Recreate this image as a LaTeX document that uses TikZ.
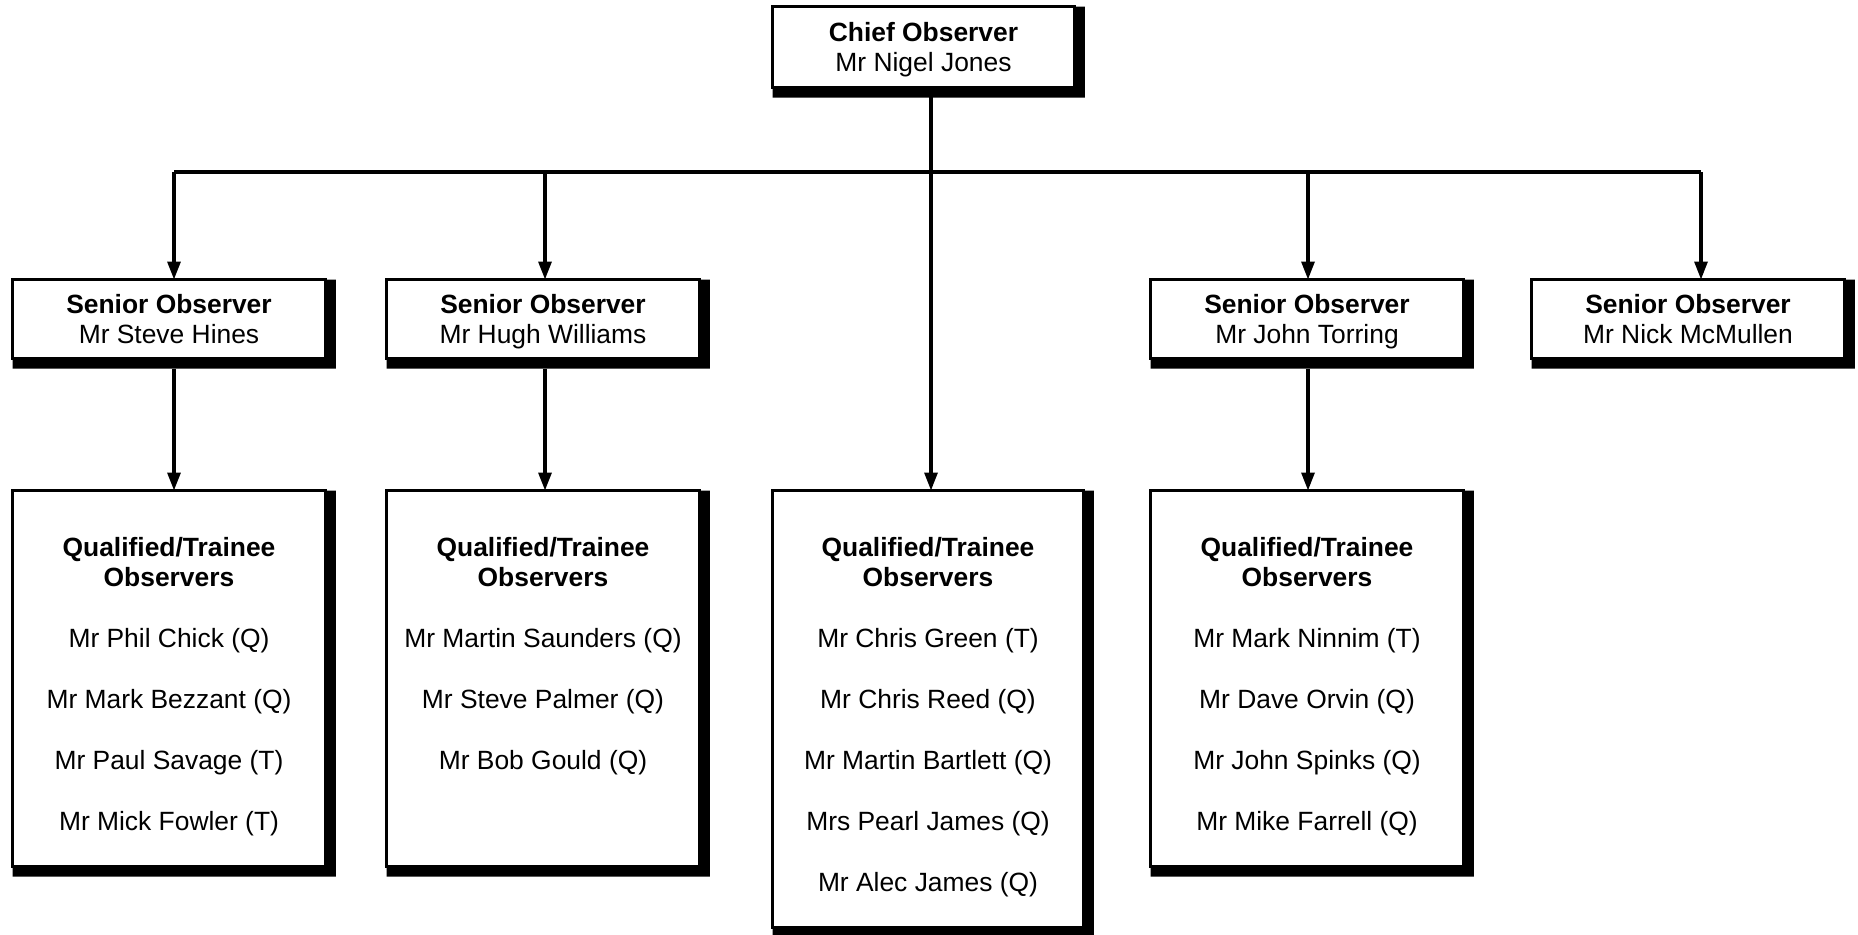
\documentclass[tikz,border=0pt]{standalone}
\usepackage{fontspec}
\setmainfont{Liberation Sans}
\usetikzlibrary{arrows.meta}

\tikzset{
  obox/.style={draw, line width=1.6pt, fill=white, inner sep=0pt, outer sep=0pt,
    minimum width=156.5pt, align=center, font=\fontsize{13.2}{15}\selectfont,
    text depth=0pt},
  sobox/.style={obox, minimum height=39.5pt},
  qbox/.style={obox, minimum height=188pt},
  qtext/.style={inner sep=0pt, anchor=north, align=center, font=\fontsize{13.2}{15}\selectfont},
  conn/.style={line width=1.6pt},
  arr/.style={conn, -{Triangle[length=9pt,width=6.5pt]}}
}

\begin{document}
\begin{tikzpicture}[x=0.5pt,y=-0.5pt]
	\useasboundingbox (0,0) rectangle (1858,934);
	% boxes
	\node[obox, minimum width=151pt, minimum height=40.5pt] (chief) at (923.5,47) {\textbf{Chief Observer}\\Mr Nigel Jones};
	\node[sobox] (so1) at (169,319) {\textbf{Senior Observer}\\Mr Steve Hines};
	\node[sobox] (so2) at (543,319) {\textbf{Senior Observer}\\Mr Hugh Williams};
	\node[sobox] (so3) at (1307,319) {\textbf{Senior Observer}\\Mr John Torring};
	\node[sobox] (so4) at (1688,319) {\textbf{Senior Observer}\\Mr Nick McMullen};
	\node[qbox] (q1) at (169,678.5) {};
	\node[qbox] (q2) at (543,678.5) {};
	\node[qbox, minimum width=155.5pt, minimum height=218.5pt] (q3) at (928,709) {};
	\node[qbox] (q4) at (1307,678.5) {};
	% shadows
	\foreach \n in {chief,so1,so2,so3,so4,q1,q2,q3,q4}
		\fill (\n.south west) -- (\n.south east) -- (\n.north east) -- ([xshift=5.2pt]\n.north east)
			-- ([shift={(5.2pt,-5pt)}]\n.south east) -- ([yshift=-5pt]\n.south west) -- cycle;
	% observer lists
	\node[qtext] (q1t) at ([yshift=-23pt]q1.north) {\textbf{Qualified/Trainee}\\\textbf{Observers}\\[15.5pt]
		Mr Phil Chick (Q)\\[15.5pt]Mr Mark Bezzant (Q)\\[15.5pt]Mr Paul Savage (T)\\[15.5pt]Mr Mick Fowler (T)};
	\node[qtext] (q2t) at ([yshift=-23pt]q2.north) {\textbf{Qualified/Trainee}\\\textbf{Observers}\\[15.5pt]
		Mr Martin Saunders (Q)\\[15.5pt]Mr Steve Palmer (Q)\\[15.5pt]Mr Bob Gould (Q)};
	\node[qtext] (q3t) at ([yshift=-23pt]q3.north) {\textbf{Qualified/Trainee}\\\textbf{Observers}\\[15.5pt]
		Mr Chris Green (T)\\[15.5pt]Mr Chris Reed (Q)\\[15.5pt]Mr Martin Bartlett (Q)\\[15.5pt]Mrs Pearl James (Q)\\[15.5pt]Mr Alec James (Q)};
	\node[qtext] (q4t) at ([yshift=-23pt]q4.north) {\textbf{Qualified/Trainee}\\\textbf{Observers}\\[15.5pt]
		Mr Mark Ninnim (T)\\[15.5pt]Mr Dave Orvin (Q)\\[15.5pt]Mr John Spinks (Q)\\[15.5pt]Mr Mike Farrell (Q)};
	% connectors
	\coordinate (b1) at (174,172);
	\coordinate (b2) at (545,172);
	\coordinate (bt) at (931,172);
	\coordinate (b4) at (1308,172);
	\coordinate (b5) at (1701,172);
	\draw[conn] (b1) -- (b5);
	\draw[arr] (chief.south -| bt) -- (q3.north -| bt);
	\draw[arr] (b1) -- (so1.north -| b1);
	\draw[arr] (b2) -- (so2.north -| b2);
	\draw[arr] (b4) -- (so4.north -| b4) ;
	\draw[arr] (b5) -- (so4.north -| b5);
	\draw[arr] ([yshift=-5pt]so1.south -| b1) -- (q1.north -| b1);
	\draw[arr] ([yshift=-5pt]so2.south -| b2) -- (q2.north -| b2);
	\draw[arr] ([yshift=-5pt]so3.south -| b4) -- (q4.north -| b4);
\end{tikzpicture}
\end{document}
